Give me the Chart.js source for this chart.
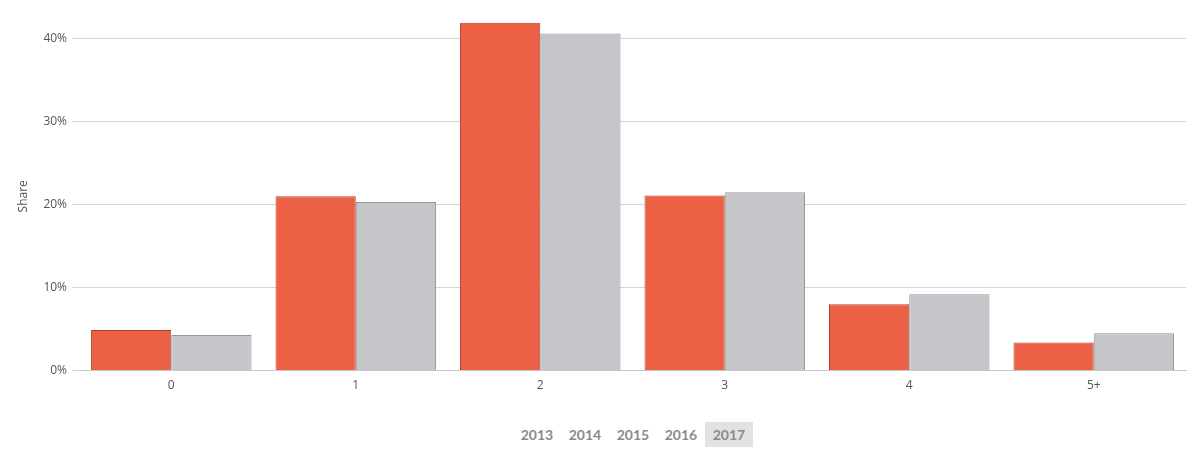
<!DOCTYPE html>
<html>
<head>
<meta charset="utf-8">
<script src="https://cdn.jsdelivr.net/npm/chart.js@4/dist/chart.umd.min.js"></script>
<style>
  html, body { margin: 0; padding: 0; background: #fff; }
  #wrap { position: relative; width: 1192px; height: 457px; }
  #chartBox { position: absolute; left: 0; top: 0; width: 1192px; height: 410px; }
  #years { position: absolute; left: 37px; top: 422px; width: 1192px; display: flex; justify-content: center; }
  #years span { display: block; width: 48px; height: 25px; line-height: 25px; text-align: center;
    font-family: Lato, "Open Sans", sans-serif; font-weight: bold; font-size: 14px; color: #8a8a8a; }
  #years span.active { background: #e2e2e2; }
</style>
</head>
<body>
<div id="wrap">
  <div id="chartBox"><canvas id="c"></canvas></div>
  <div id="years"></div>
</div>
<script>
const categories = ["0", "1", "2", "3", "4", "5+"];
const seriesA = [4.9, 21.0, 41.9, 21.1, 8.0, 3.4];
const seriesB = [4.3, 20.3, 40.6, 21.5, 9.2, 4.5];
const yearLabels = ["2013", "2014", "2015", "2016", "2017"];
const activeYear = "2017";

const yrs = document.getElementById('years');
yearLabels.forEach(y => {
  const s = document.createElement('span');
  s.textContent = y;
  if (y === activeYear) s.className = 'active';
  yrs.appendChild(s);
});

const tickFont = { family: "'Open Sans', sans-serif", size: 12 };
new Chart(document.getElementById('c'), {
  type: 'bar',
  data: {
    labels: categories,
    datasets: [
      { label: 'A', data: seriesA, backgroundColor: '#ec6146', borderColor: '#b0432f', borderWidth: 1,
        categoryPercentage: 0.87, barPercentage: 1.0 },
      { label: 'B', data: seriesB, backgroundColor: '#c5c6ca', borderColor: '#96979b', borderWidth: 1,
        categoryPercentage: 0.87, barPercentage: 1.0 }
    ]
  },
  options: {
    responsive: true,
    maintainAspectRatio: false,
    animation: false,
    layout: { padding: { top: 22, right: 6, bottom: 9, left: 16 } },
    plugins: { legend: { display: false }, tooltip: { enabled: false } },
    scales: {
      x: {
        grid: { display: false, drawTicks: false },
        border: { display: true, color: '#c8c8c8', width: 1 },
        ticks: { font: tickFont, color: '#555', padding: 8 }
      },
      y: {
        min: 0,
        max: 42,
        afterBuildTicks: (scale) => { scale.ticks = scale.ticks.filter(t => t.value % 10 === 0); },
        ticks: { stepSize: 10, font: tickFont, color: '#555', padding: 5,
          callback: v => v + '%' },
        grid: { color: '#d6d6d6', tickLength: 7, tickColor: '#d6d6d6' },
        border: { display: false },
        title: { display: true, text: 'Share', font: tickFont, color: '#555', padding: { top: 0, bottom: 8 } }
      }
    }
  }
});
</script>
</body>
</html>
